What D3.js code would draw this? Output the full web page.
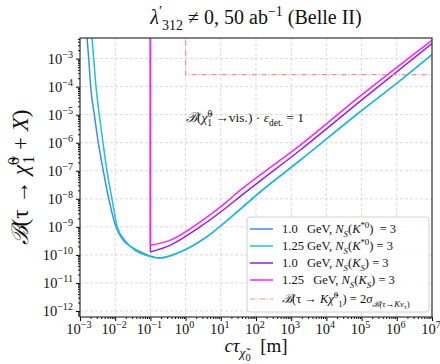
<!DOCTYPE html>
<html>
<head>
<meta charset="utf-8">
<script src="https://cdn.jsdelivr.net/npm/d3@7"></script>
<style>
  body { margin: 0; background: #fff; }
  text { font-family: "Liberation Serif", "DejaVu Serif", serif; fill: #111; white-space: pre; }
</style>
</head>
<body>
<div id="chart"></div>
<script>
// c*tau in metres, branching ratio values
const ctBlue = [1.58e-3, 1.77e-3, 2.01e-3, 2.55e-3, 3.31e-3, 4.59e-3, 6.58e-3, 1.05e-2, 1.70e-2, 2.94e-2, 5.07e-2, 0.151, 0.187, 0.69, 3.97, 22.6, 130, 1780, 9.0e4, 1.23e6, 1e7];
const brBlue = [5.75e-3, 1e-3, 1e-4, 1e-5, 1e-6, 1e-7, 1e-8, 1e-9, 3.3e-10, 1.9e-10, 1.29e-10, 7.9e-11, 7.8e-11, 1.26e-10, 4.4e-10, 2.6e-9, 1.74e-8, 2.34e-7, 1.26e-5, 1.62e-4, 1.39e-3];

const ctCyan = [2.19e-3, 2.45e-3, 2.85e-3, 3.53e-3, 4.5e-3, 5.85e-3, 8.1e-3, 1.15e-2, 1.9e-2, 3.65e-2, 7.0e-2, 0.187, 0.69, 3.97, 22.6, 130, 1780, 9.0e4, 1.23e6, 1e7];
const brCyan = [5.75e-3, 1e-3, 1e-4, 1e-5, 1e-6, 1e-7, 1e-8, 1e-9, 3.3e-10, 1.45e-10, 9.8e-11, 7.8e-11, 1.26e-10, 4.4e-10, 2.6e-9, 1.74e-8, 2.34e-7, 1.26e-5, 1.62e-4, 1.39e-3];

const ctPurple = [0.1, 0.1, 0.36, 2.56, 14.7, 35.1, 130, 1780, 9.0e4, 1e7];
const brPurple = [1e-2, 1.27e-10, 2.19e-10, 9.9e-10, 5.0e-9, 1.2e-8, 4.3e-8, 5.4e-7, 3.0e-5, 3.43e-3];

const ctMagenta = [0.1, 0.1, 0.36, 2.56, 14.7, 35.1, 130, 1780, 6.46e4, 1e7];
const brMagenta = [1e-2, 2.2e-10, 3.3e-10, 1.48e-9, 7.8e-9, 2.0e-8, 7.0e-8, 8.1e-7, 3.24e-5, 4.5e-3];

const ctRed = [1, 1, 1e7];
const brRed = [1e-2, 2.7e-4, 2.7e-4];

const xTickExp = [-3, -2, -1, 0, 1, 2, 3, 4, 5, 6, 7];
const yTickExp = [-3, -4, -5, -6, -7, -8, -9, -10, -11, -12];

const W = 440, H = 364;
const m = { left: 80, right: 8, top: 38, bottom: 47 };

const svg = d3.select("#chart").append("svg")
  .attr("width", W).attr("height", H);

const x = d3.scaleLog().domain([1e-3, 1e7]).range([m.left, W - m.right]);
const y = d3.scaleLog().domain([Math.pow(10, -12.215), Math.pow(10, -2.265)]).range([H - m.bottom, m.top]);

// text with italic / sub / sup parts
function richText(g, px, py, parts, size, anchor) {
  const t = g.append("text").attr("x", px).attr("y", py)
    .attr("font-size", size).attr("text-anchor", anchor || "start");
  let shift = 0;
  parts.forEach(function (p) {
    const s = p[0], st = p[1] || "";
    let target = 0, fs = size;
    if (st.includes("b")) { target = size * 0.28; fs = size * 0.7; }
    if (st.includes("p")) { target = -size * 0.38; fs = size * 0.7; }
    if (st.includes("d")) { target = size * 0.45; fs = size * 0.55; }
    const ts = t.append("tspan").attr("dy", target - shift).attr("font-size", fs).text(s);
    if (p[2]) ts.attr("dx", p[2]);
    if (st.includes("i")) ts.attr("font-style", "italic");
    shift = target;
  });
  return t;
}

// grid
const grid = svg.append("g");
grid.selectAll(".gx").data(xTickExp).enter().append("line")
  .attr("x1", function (d) { return x(Math.pow(10, d)); })
  .attr("x2", function (d) { return x(Math.pow(10, d)); })
  .attr("y1", m.top).attr("y2", H - m.bottom)
  .attr("stroke", "#cfcfcf").attr("stroke-dasharray", "3,2").attr("stroke-width", 0.8);
grid.selectAll(".gy").data(yTickExp).enter().append("line")
  .attr("y1", function (d) { return y(Math.pow(10, d)); })
  .attr("y2", function (d) { return y(Math.pow(10, d)); })
  .attr("x1", m.left).attr("x2", W - m.right)
  .attr("stroke", "#cfcfcf").attr("stroke-dasharray", "3,2").attr("stroke-width", 0.8);

// curves
svg.append("clipPath").attr("id", "clip").append("rect")
  .attr("x", m.left).attr("y", m.top)
  .attr("width", W - m.left - m.right).attr("height", H - m.top - m.bottom);

const plot = svg.append("g").attr("clip-path", "url(#clip)");

function series(cts, brs) {
  return cts.map(function (c, i) { return [c, brs[i]]; });
}
const smooth = d3.line().x(function (d) { return x(d[0]); }).y(function (d) { return y(d[1]); })
  .curve(d3.curveMonotoneX);
const straight = d3.line().x(function (d) { return x(d[0]); }).y(function (d) { return y(d[1]); });

function drawLine(data, color, hasWall) {
  if (hasWall) {
    // vertical wall at the lower ctau edge, then smooth rise
    plot.append("path").attr("d", straight(data.slice(0, 2)))
      .attr("fill", "none").attr("stroke", color).attr("stroke-width", 1.5);
    data = data.slice(1);
  }
  plot.append("path").attr("d", smooth(data))
    .attr("fill", "none").attr("stroke", color).attr("stroke-width", 1.5)
    .attr("stroke-linejoin", "round");
}
drawLine(series(ctBlue, brBlue), "#3a8ee8", false);
drawLine(series(ctCyan, brCyan), "#18c4d8", false);
drawLine(series(ctPurple, brPurple), "#9a1fd8", true);
drawLine(series(ctMagenta, brMagenta), "#ff22ff", true);

plot.append("path").attr("d", straight(series(ctRed, brRed)))
  .attr("fill", "none").attr("stroke", "#ff8a8a").attr("stroke-width", 1.3)
  .attr("stroke-dasharray", "5,2,1,2");

// axes
const xMinor = [], yMinor = [];
for (let e = -3; e < 7; e++) for (let k = 2; k < 10; k++) xMinor.push(k * Math.pow(10, e));
for (let e = -13; e < -2; e++) for (let k = 2; k < 10; k++) {
  const v = k * Math.pow(10, e);
  if (v > y.domain()[0] && v < y.domain()[1]) yMinor.push(v);
}

const ax = svg.append("g").attr("transform", "translate(0," + (H - m.bottom) + ")");
ax.call(d3.axisBottom(x).tickValues(xTickExp.map(function (d) { return Math.pow(10, d); }))
  .tickFormat("").tickSize(4).tickSizeOuter(0));
ax.append("g").call(d3.axisBottom(x).tickValues(xMinor).tickFormat("").tickSize(2).tickSizeOuter(0));
ax.selectAll("path").attr("stroke", "none");

const ay = svg.append("g").attr("transform", "translate(" + m.left + ",0)");
ay.call(d3.axisLeft(y).tickValues(yTickExp.map(function (d) { return Math.pow(10, d); }))
  .tickFormat("").tickSize(4).tickSizeOuter(0));
ay.append("g").call(d3.axisLeft(y).tickValues(yMinor).tickFormat("").tickSize(2).tickSizeOuter(0));
ay.selectAll("path").attr("stroke", "none");

xTickExp.forEach(function (e) {
  richText(svg, x(Math.pow(10, e)) - 1, 334, [["10"], ["" + (e < 0 ? "−" + (-e) : e), "p"]], 14.5, "middle");
});
yTickExp.forEach(function (e) {
  richText(svg, m.left - 7, y(Math.pow(10, e)) + 5, [["10"], ["−" + (-e), "p"]], 14.5, "end");
});

// frame
svg.append("rect").attr("x", m.left).attr("y", m.top)
  .attr("width", W - m.left - m.right).attr("height", H - m.top - m.bottom)
  .attr("fill", "none").attr("stroke", "#333").attr("stroke-width", 1.2);

// title and axis labels
richText(svg, 256, 24, [["λ", "i"], ["′", "p"], ["312", "b"], [" ≠ 0, 50 ab"], ["−1", "p"], [" (Belle II)"]], 20, "middle");

richText(svg, 256, 352, [["cτ", "i"], ["χ̃", "bi"], ["0", "d"], ["  [m]"]], 19, "middle");

const yl = richText(svg, 0, 0, [["ℬ", "i"], ["(τ → ", ""], ["χ̃", "i"], ["0", "p"], ["1", "b", -7], [" + "], ["X", "i"], [")"]], 23, "middle");
yl.attr("transform", "translate(28," + ((m.top + H - m.bottom) / 2) + ") rotate(-90)");

richText(svg, 186, 122, [["ℬ", "i"], ["("], ["χ̃", "i"], ["0", "p"], ["1", "b", -5], [" →vis.) · "], ["ε", "i"], ["det.", "b"], [" = 1"]], 13.5, "start");

// legend
const lg = svg.append("g");
lg.append("rect").attr("x", 247).attr("y", 217).attr("width", 182).attr("height", 95)
  .attr("rx", 3).attr("fill", "#fff").attr("fill-opacity", 0.85).attr("stroke", "#d0d0d0");
const legendItems = [
  { color: "#3a8ee8", dash: null, parts: [["1.0   GeV, "], ["N", "i"], ["S", "bi"], ["("], ["K", "i"], ["*0", "p"], [")  = 3"]] },
  { color: "#18c4d8", dash: null, parts: [["1.25 GeV, "], ["N", "i"], ["S", "bi"], ["("], ["K", "i"], ["*0", "p"], [") = 3"]] },
  { color: "#9a1fd8", dash: null, parts: [["1.0   GeV, "], ["N", "i"], ["S", "bi"], ["("], ["K", "i"], ["S", "bi"], [") = 3"]] },
  { color: "#ff22ff", dash: null, parts: [["1.25   GeV, "], ["N", "i"], ["S", "bi"], ["("], ["K", "i"], ["S", "bi"], [") = 3"]] },
  { color: "#ff8a8a", dash: "5,2,1,2", parts: [["ℬ", "i"], ["(τ → "], ["K", "i"], ["χ̃", "i"], ["0", "p"], ["1", "b"], [") = 2"], ["σ", "i"], ["ℬ(τ→Kν", "bi"], ["τ", "d"], [")", "b"]] }
];
const rowY = [229, 246, 263, 280, 299];
legendItems.forEach(function (it, i) {
  const l = lg.append("line").attr("x1", 250).attr("x2", 273).attr("y1", rowY[i]).attr("y2", rowY[i])
    .attr("stroke", it.color).attr("stroke-width", 1.5);
  if (it.dash) l.attr("stroke-dasharray", it.dash).attr("stroke-width", 1.2);
  richText(lg, 282, rowY[i] + 4, it.parts, 12.5, "start");
});
</script>
</body>
</html>
